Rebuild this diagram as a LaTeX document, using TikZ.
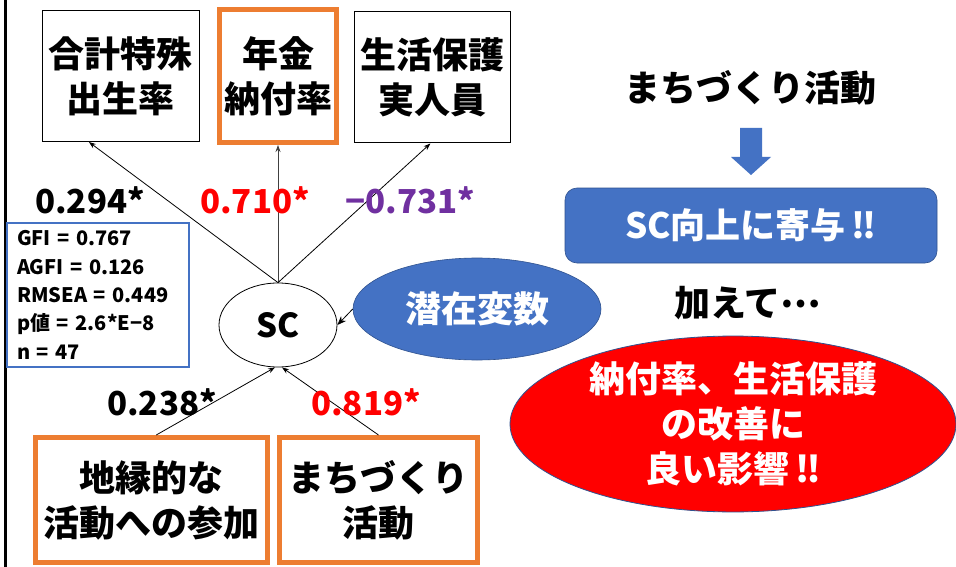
\documentclass[tikz,border=0pt]{standalone}
\usepackage{fontspec}
\setmainfont{Noto Sans CJK JP}
\usetikzlibrary{arrows.meta,shapes.geometric,calc}
\definecolor{orng}{HTML}{ED7D31}
\definecolor{bluef}{HTML}{4472C4}
\definecolor{blued}{HTML}{2F528F}
\definecolor{purp}{HTML}{7030A0}
\definecolor{redf}{HTML}{FF0000}
\newcommand\jpbig{\fontsize{36}{45}\selectfont\bfseries}
\newcommand\numfont{\fontsize{33}{38}\selectfont\bfseries}
\newcommand\statfont{\fontsize{20}{28.3}\selectfont\bfseries}
\tikzset{
  plainbox/.style={draw=black, line width=1pt, inner sep=0pt, align=center, font=\jpbig},
  orangebox/.style={draw=orng, line width=5pt, inner sep=0pt, align=center, font=\jpbig},
  sempath/.style={draw=black, line width=0.8pt, -{Stealth[length=7pt,width=5pt]}},
  coef/.style={font=\numfont, inner sep=0pt},
}
\begin{document}
\begin{tikzpicture}[x=1pt,y=-1pt]
\useasboundingbox (0,0) rectangle (956,567);
\fill[white] (0,0) rectangle (956,567);
% left border line
\draw[line width=3pt] (5,0) -- (5,567);

% top indicators
\node[plainbox, minimum width=157pt, minimum height=131pt] (b1) at (120.5,76) {合計特殊\\出生率};
\node[orangebox, minimum width=117pt, minimum height=133pt] (b2) at (278,76) {年金\\納付率};
\node[plainbox, minimum width=156pt, minimum height=131pt] (b3) at (432,77.5) {生活保護\\実人員};

% SC latent variable
\node[ellipse, draw=black, line width=0.8pt, minimum width=118pt, minimum height=84pt, inner sep=0pt,
      font=\fontsize{33}{38}\selectfont\bfseries] (sc) at (278,325) {SC};

% bottom indicators
\node[orangebox, minimum width=232pt, minimum height=125pt] (b4) at (151.5,500) {地縁的な\\活動への参加};
\node[orangebox, minimum width=198pt, minimum height=125pt] (b5) at (378.5,500) {まちづくり\\活動};

% latent variable label ellipse
\node[ellipse, fill=bluef, draw=blued, line width=0.6pt, minimum width=248pt, minimum height=102pt,
      inner sep=0pt, text=white, font=\fontsize{36}{40}\selectfont\bfseries] (lv) at (477,309) {潜在変数};

% stats box
\node[draw=bluef, line width=1.2pt, minimum width=182pt, minimum height=144pt,
      text width=162pt, inner sep=0pt, align=left, font=\statfont] (stats) at (98,295)
      {GFI = 0.767\\AGFI = 0.126\\RMSEA = 0.449\\p値 = 2.6*E−8\\n = 47};

% paths
\draw[sempath] (sc.north) -- ($(b1.south west)!0.3!(b1.south east)$);
\draw[sempath, draw=black!75] (sc.north) -- (b2.south);
\draw[sempath] (sc.north) -- ($(b3.south west)!0.49!(b3.south east)$);
\draw[sempath] ($(b4.north west)!0.52!(b4.north east)$) -- ([xshift=-3pt]sc.south);
\draw[sempath] (b5.north) -- ([xshift=4pt]sc.south);
\draw[sempath, -{Stealth[length=9pt,width=7pt]}] (lv.west) -- (sc.east);

% coefficients
\node[coef] (c1) at (90,200) {0.294*};
\node[coef, text=redf] (c2) at (255,200) {0.710*};
\node[coef, text=purp] (c3) at (410,200) {−0.731*};
\node[coef] (c4) at (162,402) {0.238*};
\node[coef, text=redf] (c5) at (366,402) {0.819*};

% right side
\node[font=\jpbig, inner sep=0pt] (t1) at (750,88) {まちづくり活動};
\fill[bluef] (740,128) -- (762,128) -- (762,157) -- (771,157) -- (751,175) -- (731,157) -- (740,157) -- cycle;
\node[fill=bluef, draw=blued, line width=0.6pt, rounded corners=12pt, minimum width=372pt, minimum height=75pt,
      inner sep=0pt, text=white, font=\fontsize{35}{40}\selectfont\bfseries] (sc2) at (751,225.5) {SC向上に寄与\,‼};
\node[font=\jpbig, inner sep=0pt] (t2) at (748,303) {加えて\raisebox{9pt}{…}};
\node[ellipse, fill=redf, draw=blued, line width=0.8pt, minimum width=446pt, minimum height=168pt,
      inner sep=0pt, text=white, align=center, font=\jpbig] (eff) at (733,424) {納付率、生活保護\\の改善に\\良い影響\,‼};
\end{tikzpicture}
\end{document}
